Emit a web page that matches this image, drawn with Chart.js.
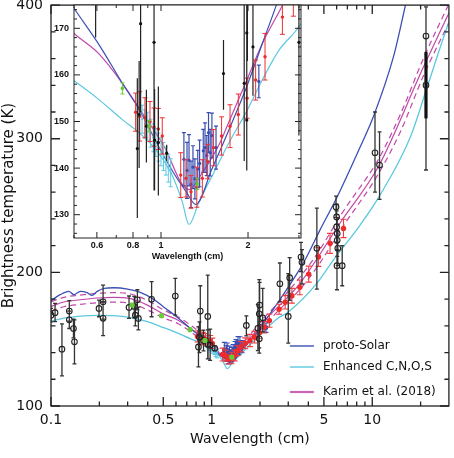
<!DOCTYPE html>
<html><head><meta charset="utf-8">
<script src="https://cdn.jsdelivr.net/npm/chart.js@4.4.1/dist/chart.umd.min.js"></script>
<style>
html,body{margin:0;padding:0;background:#fff;}
#wrap{position:relative;width:454px;height:458px;overflow:hidden;}
#wrap canvas{position:absolute;left:0;top:0;}
</style></head><body>
<div id="wrap"><canvas id="main" width="454" height="458"></canvas><canvas id="inset" width="454" height="458"></canvas></div>
<script>
// ---------------- model curves (wavelength in cm, brightness temperature in K) ----------------
const protoSolarWl = [0.1,0.114,0.129,0.139,0.152,0.168,0.18,0.194,0.215,0.246,0.3,0.36,0.44,0.5,0.61,0.735,0.84,0.98,1.12,1.22,1.32,1.5,1.72,1.96,2.24,2.49,3.56,3.91,4.74,6.02,8.42,10.2,13.6,16.1];
const protoSolarT  = [178.8,183.3,185.8,183.3,185.8,184.8,182.8,185.8,188,188.5,187.5,185,179.5,174.3,166.5,158.2,152.6,144.7,138.4,135,132.2,139.8,148.3,156.8,166.7,174.5,203,211.7,232,256,294,317,362,400];

const enhancedWl = [0.1,0.126,0.152,0.203,0.246,0.313,0.398,0.496,0.61,0.735,0.84,0.958,1.094,1.185,1.25,1.353,1.505,1.72,1.963,2.24,2.56,3.02,4.52,5.72,8.4,11.2,17.3,22,29.3,30];
const enhancedT  = [163.6,166.1,167.3,167.8,167.6,166.1,163.1,158.9,154.7,150.4,147.6,144,138.4,132.7,127.9,132.7,138.4,145.5,151.8,158.9,165.3,170.6,191.8,209.2,235.4,258,301.5,338.9,383.8,387];

const karimWl = [0.1,0.12,0.152,0.194,0.246,0.313,0.398,0.496,0.61,0.735,0.862,1.038,1.17,1.25,1.39,1.587,1.72,1.96,2.24,2.63,3.56,6.47,10.9,20.9,30];
const karimT  = [174.5,177.8,179.5,180.8,181.3,180.3,175.5,169.1,164.5,158.2,151.8,144,137,135.4,139,145,150,158.2,166.7,174.9,192,239,279,354,394];

const karimBandWl = [0.1,0.12,0.152,0.194,0.246,0.313,0.398,0.5,0.62,0.75,0.9,1.1,1.25,1.4,1.6,2.0,2.6,3.5,4.6,6.5,10.9,15,20.9,30];
const karimHiT = [178,181.3,183,184.3,184.8,183.8,179,172,166.5,160,152.5,142.5,137.4,141.3,148.3,162.5,177.3,195.5,215,244.5,284.5,318.5,360.5,401];
const karimLoT = [171,174.3,176,177.3,177.8,176.8,172,166,161.5,155,147.5,138.5,133.4,137.3,144.3,156.5,171.3,186.5,205,233.5,273.5,305.5,347.5,387];

// ---------------- observations ----------------
const blackWl = [0.1,0.106,0.117,0.13,0.13,0.138,0.14,0.199,0.211,0.211,0.306,0.33,0.335,0.345,0.35,0.423,0.594,0.828,0.84,0.85,0.89,0.946,0.95,0.979,1.046,1.645,1.94,1.98,1.98,1.99,2.08,2.66,3.0,3.06,3.6,3.65,4.52,5.95,6.0,6.0,6.05,6.05,6.1,6.03,6.5,10.4,11.1,21.6];
const blackT  = [168,169.8,142.5,171,164.5,158,148,173,178,165.6,173.8,174.5,168,179.5,165.5,179.8,182.3,144.2,151.5,171,149,167,146,145.5,143.2,160.3,158.2,150.3,169,175.5,166,191.5,167,196,211.5,207.5,218,249,241.5,234,229,224,218,205,205,289.5,280.3,376.8];
const blackLo = [163,163.1,122.5,163.5,158,151,131.5,166.8,165,152.6,165.6,166,160,172,157,166.8,168,129.3,140,152,141.2,135.2,135.2,134.1,141.5,152.5,141.5,139.5,143.5,163,155.5,178,147,179,200.5,191.3,187.5,241,232,222,217,212,205,187,190,260,254.6,276.6];
const blackHi = [173,176.8,161.5,178.8,171,165,164.5,179.3,190.5,178,182.3,182,176,187,174,193,195.5,159.3,163,190,156.8,198,157,157.5,145,167.5,176,161,194.5,192.5,188,207,199,211,222.5,217,248,257,251,246,241,236,231,222.5,220,320,305.2,398.7];

const thickWl = [21.6];
const thickT  = [340.1];
const thickLo = [315.2];
const thickHi = [365];

const redWl  = [0.817,0.844,0.88,0.916,0.946,0.979,1.01,1.17,1.22,1.27,1.33,1.39,1.45,1.52,1.62,1.733,1.851,1.985,2.125,2.29,2.63,2.87,3.16,3.54,4.02,4.62,5.46,6.62];
const redT   = [152,151.1,150.8,150,148.8,148.4,146.9,138.5,137.8,134.9,135.9,137.8,141.4,144.4,146.9,149,151.5,155,158.9,163.9,172.4,177.6,182.5,188.8,198.7,211.5,221.7,232.9];
const redErr = [4.1,5.3,4.3,4.3,4.1,4.4,3.9,4.8,4,3.5,4.3,4,3.7,3.9,4.1,4.6,4.4,4.3,4.3,5,3.7,5,5.5,5.5,6,7,7.5,6.9];

const blueWl  = [1.2,1.23,1.25,1.27,1.29,1.31,1.34,1.36,1.4,1.42,1.44,1.46,1.48,1.5,1.55,2.18];
const blueT   = [141.9,139.5,141.7,136.5,140.2,137.7,139.8,141,143.7,144.4,142.7,147.6,143.3,147,144.4,158.6];
const blueErr = [5.7,6,5.5,5,4.6,4.3,4,5,4.6,5.3,4.3,4.3,5,4.8,4.6,3.5];

const cyanWl  = [0.86,0.88,0.9,0.92,0.94,0.96,0.98,1.0,1.02,1.04,1.06,1.08];
const cyanT   = [150.5,149.5,149,147.5,146.5,145.5,144.5,143.5,142.5,141.5,140,139];
const cyanErr = [3,3,3,3,3,3,3,3,3,3,3,3];

const greenWl  = [0.32,0.488,0.735,0.909,1.335];
const greenT   = [175.5,167.6,157.1,149,136.6];
const greenErr = [1,1,1.2,1.2,1.2];

// ---------------- tick values / labels ----------------
const wlTickLabels = [0.1,0.5,1,5,10];
const wlMajorTicks = [0.1,0.5,1,5,10];
const wlMinorTicks = [0.2,0.3,0.4,0.6,0.7,0.8,0.9,2,3,4,6,7,8,9,20];
const tempTickLabels = [100,200,300,400];
const tempMinorTicks = [120,140,160,180,220,240,260,280,320,340,360,380];

const insetWlLabels = [0.6,0.8,1,2];
const insetWlMajor = [0.6,0.8,1,2];
const insetWlMinor = [0.5,0.7,0.9,3];
const insetTempLabels = [130,140,150,160,170];
const insetTempMinor = [126,128,132,134,136,138,142,144,146,148,152,154,156,158,162,164,166,168,172,174];

const legendLabels = ['proto-Solar','Enhanced C,N,O,S','Karim et al. (2018)'];

// ---------------- helpers ----------------
const C_BLUE = '#3c50b4', C_CYAN = '#5cc8e0', C_MAG = '#c048a8';
const C_RED = '#ee2a2a', C_DBLUE = '#3a4db0', C_GREEN = '#66cc33', C_BLACK = '#222';
const FONT = "'DejaVu Sans', sans-serif";
const IFONT = "'Liberation Sans', Arial, sans-serif";
const pts = (xs, ys) => xs.map((x, i) => ({x: x, y: ys[i]}));
const shift = (t, e, s) => t.map((v, i) => v + s * e[i]);

const errPlugin = {
  id: 'errbars',
  beforeDatasetDraw(chart, args) {
    const ds = chart.data.datasets[args.index];
    if (!ds.errLo) return;
    const {ctx, chartArea: a} = chart;
    const xs = chart.scales.x, ys = chart.scales.y;
    ctx.save();
    ctx.beginPath(); ctx.rect(a.left, a.top, a.right - a.left, a.bottom - a.top); ctx.clip();
    ctx.strokeStyle = ds.errColor; ctx.lineWidth = ds.errWidth;
    ctx.beginPath();
    ds.data.forEach((p, i) => {
      const px = xs.getPixelForValue(p.x);
      const y1 = ys.getPixelForValue(ds.errLo[i]);
      const y2 = ys.getPixelForValue(ds.errHi[i]);
      ctx.moveTo(px, y1); ctx.lineTo(px, y2);
      if (ds.capW) {
        ctx.moveTo(px - ds.capW, y1); ctx.lineTo(px + ds.capW, y1);
        ctx.moveTo(px - ds.capW, y2); ctx.lineTo(px + ds.capW, y2);
      }
    });
    ctx.stroke();
    ctx.restore();
  }
};

const tickPlugin = {
  id: 'inTicks',
  beforeDraw(chart, args, o) {
    if (!o.fill) return;
    const {ctx, chartArea: a} = chart;
    ctx.save(); ctx.fillStyle = o.fill;
    ctx.fillRect(a.left, a.top, a.right - a.left, a.bottom - a.top);
    ctx.restore();
  },
  afterDraw(chart, args, o) {
    const {ctx, chartArea: a} = chart;
    const xs = chart.scales.x, ys = chart.scales.y;
    ctx.save();
    ctx.strokeStyle = o.color; ctx.lineWidth = o.width;
    ctx.strokeRect(a.left, a.top, a.right - a.left, a.bottom - a.top);
    ctx.beginPath();
    const xt = [[o.xMajor, o.major], [o.xMinor, o.minor]];
    xt.forEach(([vals, len]) => vals.forEach(v => {
      const px = xs.getPixelForValue(v);
      if (px < a.left - 0.5 || px > a.right + 0.5) return;
      ctx.moveTo(px, a.bottom); ctx.lineTo(px, a.bottom - len);
      ctx.moveTo(px, a.top); ctx.lineTo(px, a.top + len);
    }));
    const yt = [[o.yMajor, o.major], [o.yMinor, o.minor]];
    yt.forEach(([vals, len]) => vals.forEach(v => {
      const py = ys.getPixelForValue(v);
      if (py < a.top - 0.5 || py > a.bottom + 0.5) return;
      ctx.moveTo(a.left, py); ctx.lineTo(a.left + len, py);
      ctx.moveTo(a.right, py); ctx.lineTo(a.right - len, py);
    }));
    ctx.stroke();
    ctx.restore();
  }
};

const legendPlugin = {
  id: 'modelLegend',
  afterDraw(chart, args, o) {
    if (!o.items) return;
    const {ctx, chartArea: a} = chart;
    ctx.save();
    ctx.font = o.font; ctx.fillStyle = '#111'; ctx.textBaseline = 'middle'; ctx.textAlign = 'left';
    o.items.forEach((it, i) => {
      const y = a.bottom - o.rows[i];
      ctx.strokeStyle = it.color; ctx.lineWidth = it.width;
      ctx.beginPath(); ctx.moveTo(a.right - o.lineX0, y); ctx.lineTo(a.right - o.lineX1, y); ctx.stroke();
      ctx.fillText(it.label, a.right - o.textX, y);
    });
    ctx.restore();
  }
};

function curve(label, xs, ys, color, w, order, dash) {
  return {label: label, data: pts(xs, ys), showLine: true, borderColor: color, borderWidth: w,
    pointRadius: 0, fill: false, cubicInterpolationMode: 'monotone', order: order, borderDash: dash || []};
}
function obs(label, xs, ys, lo, hi, o) {
  return {label: label, data: pts(xs, ys), showLine: false, errLo: lo, errHi: hi,
    errColor: o.errColor, errWidth: o.errWidth, capW: o.capW, pointRadius: o.r, pointStyle: 'circle',
    pointBackgroundColor: o.fill, pointBorderColor: o.stroke, pointBorderWidth: o.bw, order: o.order};
}

// ---------------- main chart ----------------
const mainSets = [
  obs('Green', greenWl, greenT, shift(greenT, greenErr, -1), shift(greenT, greenErr, 1),
      {errColor: C_GREEN, errWidth: 1, capW: 2, r: 2.6, fill: C_GREEN, stroke: C_GREEN, bw: 0, order: 0}),
  obs('Black thick', thickWl, thickT, thickLo, thickHi,
      {errColor: '#111', errWidth: 3.2, capW: 0, r: 2.8, fill: 'rgba(0,0,0,0)', stroke: C_BLACK, bw: 1.1, order: 1}),
  obs('Black', blackWl, blackT, blackLo, blackHi,
      {errColor: '#333', errWidth: 1.3, capW: 2, r: 2.8, fill: 'rgba(0,0,0,0)', stroke: C_BLACK, bw: 1.1, order: 1}),
  obs('Red', redWl, redT, shift(redT, redErr, -1), shift(redT, redErr, 1),
      {errColor: '#f03c3c', errWidth: 1.1, capW: 3, r: 2.7, fill: C_RED, stroke: C_RED, bw: 0, order: 2}),
  obs('Blue', blueWl, blueT, shift(blueT, blueErr, -1), shift(blueT, blueErr, 1),
      {errColor: C_DBLUE, errWidth: 1.1, capW: 2.5, r: 2.4, fill: C_DBLUE, stroke: C_DBLUE, bw: 0, order: 3}),
  obs('Cyan', cyanWl, cyanT, shift(cyanT, cyanErr, -1), shift(cyanT, cyanErr, 1),
      {errColor: C_CYAN, errWidth: 1, capW: 2, r: 1.2, fill: C_CYAN, stroke: C_CYAN, bw: 0, order: 4}),
  curve('proto-Solar', protoSolarWl, protoSolarT, C_BLUE, 1.3, 10),
  curve('Enhanced C,N,O,S', enhancedWl, enhancedT, C_CYAN, 1.3, 11),
  curve('Karim et al. (2018)', karimWl, karimT, C_MAG, 1.2, 12),
  curve('Karim upper', karimBandWl, karimHiT, C_MAG, 1.2, 13, [6, 4]),
  curve('Karim lower', karimBandWl, karimLoT, C_MAG, 1.2, 13, [6, 4])
];

new Chart(document.getElementById('main'), {
  type: 'scatter',
  data: {datasets: mainSets},
  options: {
    responsive: false, animation: false, devicePixelRatio: 1, events: [],
    layout: {padding: {left: 0, right: 3, top: 5, bottom: 0}},
    plugins: {
      legend: {display: false}, tooltip: {enabled: false},
      inTicks: {color: '#222', width: 1.3, major: 9, minor: 4.5,
        xMajor: wlMajorTicks, xMinor: wlMinorTicks, yMajor: tempTickLabels, yMinor: tempMinorTicks},
      modelLegend: {font: "12px " + FONT, rows: [60, 39, 14], lineX0: 159, lineX1: 135, textX: 126,
        items: [{label: legendLabels[0], color: C_BLUE, width: 1.4},
                {label: legendLabels[1], color: C_CYAN, width: 1.4},
                {label: legendLabels[2], color: '#cc66bb', width: 2.2}]}
    },
    scales: {
      x: {type: 'logarithmic', min: 0.1, max: 30,
        grid: {display: false, drawTicks: false}, border: {display: false},
        ticks: {autoSkip: false, maxRotation: 0, padding: 6, color: '#111', font: {family: FONT, size: 14},
          callback: v => String(v)},
        afterBuildTicks: s => { s.ticks = wlTickLabels.map(v => ({value: v})); },
        afterFit: s => { s.height = 52; s.paddingLeft = 0; s.paddingRight = 0; },
        title: {display: true, text: 'Wavelength (cm)', color: '#111', font: {family: FONT, size: 14},
          padding: {top: 0, bottom: 10}}
      },
      y: {type: 'linear', min: 100, max: 400,
        grid: {display: false, drawTicks: false}, border: {display: false},
        ticks: {padding: 8, color: '#111', font: {family: FONT, size: 14}},
        afterBuildTicks: s => { s.ticks = tempTickLabels.map(v => ({value: v})); },
        afterFit: s => { s.width = 51; s.paddingTop = 0; s.paddingBottom = 0; },
        title: {display: true, text: 'Brightness temperature (K)', color: '#111', font: {family: FONT, size: 15},
          padding: {top: 0, bottom: 0}}
      }
    }
  },
  plugins: [errPlugin, tickPlugin, legendPlugin]
});

// ---------------- inset chart ----------------
const insetSets = [
  obs('Green', greenWl, greenT, shift(greenT, greenErr, -1), shift(greenT, greenErr, 1),
      {errColor: C_GREEN, errWidth: 1, capW: 2, r: 1.8, fill: C_GREEN, stroke: C_GREEN, bw: 0, order: 0}),
  obs('Black', blackWl, blackT, blackLo, blackHi,
      {errColor: '#222', errWidth: 1.2, capW: 0, r: 1.6, fill: '#111', stroke: '#111', bw: 0, order: 1}),
  obs('Red', redWl, redT, shift(redT, redErr, -1), shift(redT, redErr, 1),
      {errColor: '#f03030', errWidth: 1, capW: 2.5, r: 1.7, fill: C_RED, stroke: C_RED, bw: 0, order: 2}),
  obs('Blue', blueWl, blueT, shift(blueT, blueErr, -1), shift(blueT, blueErr, 1),
      {errColor: C_DBLUE, errWidth: 1.2, capW: 2, r: 1.6, fill: C_DBLUE, stroke: C_DBLUE, bw: 0, order: 3}),
  obs('Cyan', cyanWl, cyanT, shift(cyanT, cyanErr, -1), shift(cyanT, cyanErr, 1),
      {errColor: C_CYAN, errWidth: 1, capW: 2, r: 1, fill: C_CYAN, stroke: C_CYAN, bw: 0, order: 4}),
  curve('proto-Solar', protoSolarWl, protoSolarT, C_BLUE, 1.2, 10),
  curve('Enhanced C,N,O,S', enhancedWl, enhancedT, C_CYAN, 1.2, 11),
  curve('Karim et al. (2018)', karimWl, karimT, C_MAG, 1.2, 12)
];

new Chart(document.getElementById('inset'), {
  type: 'scatter',
  data: {datasets: insetSets},
  options: {
    responsive: false, animation: false, devicePixelRatio: 1, events: [],
    layout: {padding: {left: 0, right: 153, top: 5, bottom: 190}},
    plugins: {
      legend: {display: false}, tooltip: {enabled: false},
      inTicks: {fill: '#fff', color: '#222', width: 1, major: 6, minor: 3,
        xMajor: insetWlMajor, xMinor: insetWlMinor, yMajor: insetTempLabels, yMinor: insetTempMinor}
    },
    scales: {
      x: {type: 'logarithmic', min: 0.5, max: 3.05,
        grid: {display: false, drawTicks: false}, border: {display: false},
        ticks: {autoSkip: false, maxRotation: 0, padding: 2, color: '#111',
          font: {family: IFONT, size: 9, weight: 'bold'}, callback: v => String(v)},
        afterBuildTicks: s => { s.ticks = insetWlLabels.map(v => ({value: v})); },
        afterFit: s => { s.height = 30; s.paddingLeft = 0; s.paddingRight = 0; },
        title: {display: true, text: 'Wavelength (cm)', color: '#111',
          font: {family: IFONT, size: 9, weight: 'bold'}, padding: {top: 0, bottom: 6}}
      },
      y: {type: 'linear', min: 125, max: 175,
        grid: {display: false, drawTicks: false}, border: {display: false},
        ticks: {padding: 5, color: '#111', font: {family: IFONT, size: 9, weight: 'bold'}},
        afterBuildTicks: s => { s.ticks = insetTempLabels.map(v => ({value: v})); },
        afterFit: s => { s.width = 74; s.paddingTop = 0; s.paddingBottom = 0; }
      }
    }
  },
  plugins: [errPlugin, tickPlugin]
});
</script>
</body></html>
